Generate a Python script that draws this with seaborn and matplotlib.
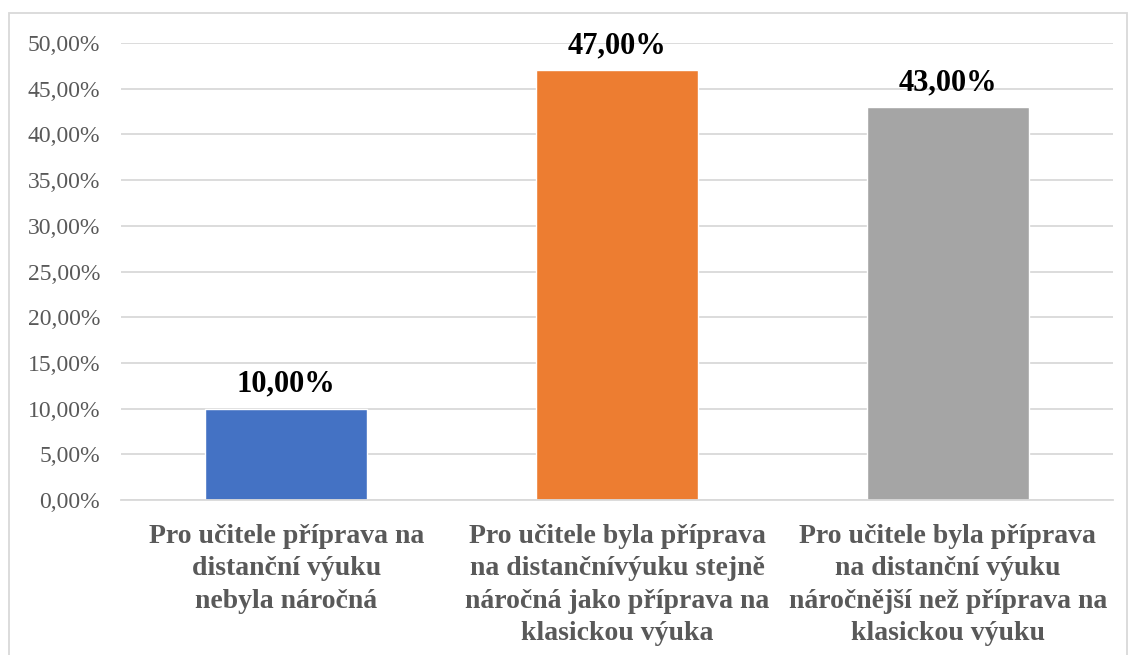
import pandas as pd
import seaborn as sns
import matplotlib.pyplot as plt
from matplotlib.patches import Rectangle
from matplotlib.ticker import FuncFormatter, FixedLocator

# Data
categories = [
    "Pro učitele příprava na\ndistanční výuku\nnebyla náročná",
    "Pro učitele byla příprava\nna distančnívýuku stejně\nnáročná jako příprava na\nklasickou výuka",
    "Pro učitele byla příprava\nna distanční výuku\nnáročnější než příprava na\nklasickou výuku",
]
shares = [0.10, 0.47, 0.43]
colors = ["#4472C4", "#ED7D31", "#A5A5A5"]

sns.set_style("white")
plt.rcParams['font.family'] = ['Liberation Serif', 'DejaVu Serif']

data = pd.DataFrame({'kategorie': categories, 'podil': shares})

fig = plt.figure(figsize=(11.3, 6.55), dpi=100)
ax = fig.add_axes([0.107, 0.2366, 0.878, 0.6977])

sns.barplot(data=data, x='kategorie', y='podil', hue='kategorie',
            palette=colors, width=0.49, legend=False, ax=ax, saturation=1)

ax.set_ylim(0, 0.5)
ax.set_xlim(-0.5, 2.5)
ax.set_yticks([i * 0.05 for i in range(11)])
ax.yaxis.set_major_formatter(FuncFormatter(lambda v, p: f"{v * 100:.2f}%".replace('.', ',')))
ax.grid(axis='y', color='#D9D9D9', linewidth=1.3)
ax.set_axisbelow(True)

for s in ['top', 'right', 'left']:
    ax.spines[s].set_visible(False)
ax.spines['bottom'].set_color('#D9D9D9')
ax.spines['bottom'].set_linewidth(1.3)

ax.tick_params(axis='y', length=0, pad=15, labelsize=17, labelcolor='#595959')
ax.tick_params(axis='x', which='major', length=0, pad=17)
ax.xaxis.set_minor_locator(FixedLocator([-0.5, 0.5, 1.5, 2.5]))
ax.tick_params(axis='x', which='minor', length=8, width=1.3, color='#D9D9D9')
for lab in ax.get_xticklabels():
    lab.set_fontsize(20)
    lab.set_fontweight('bold')
    lab.set_color('#595959')
    lab.set_linespacing(1.4)

ax.set_xlabel('')
ax.set_ylabel('')

for i, v in enumerate(shares):
    ax.annotate(f"{v * 100:.2f}%".replace('.', ','), (i, v), xytext=(0, 7),
                textcoords='offset points', ha='center', va='bottom',
                fontsize=22, fontweight='bold', color='black')

fig.patches.append(Rectangle((9 / 1130, -0.01), 1118 / 1130, 1 - 13 / 655 + 0.01,
                             transform=fig.transFigure, fill=False,
                             edgecolor='#D9D9D9', linewidth=1.3))

fig.savefig('out.png', dpi=100)
